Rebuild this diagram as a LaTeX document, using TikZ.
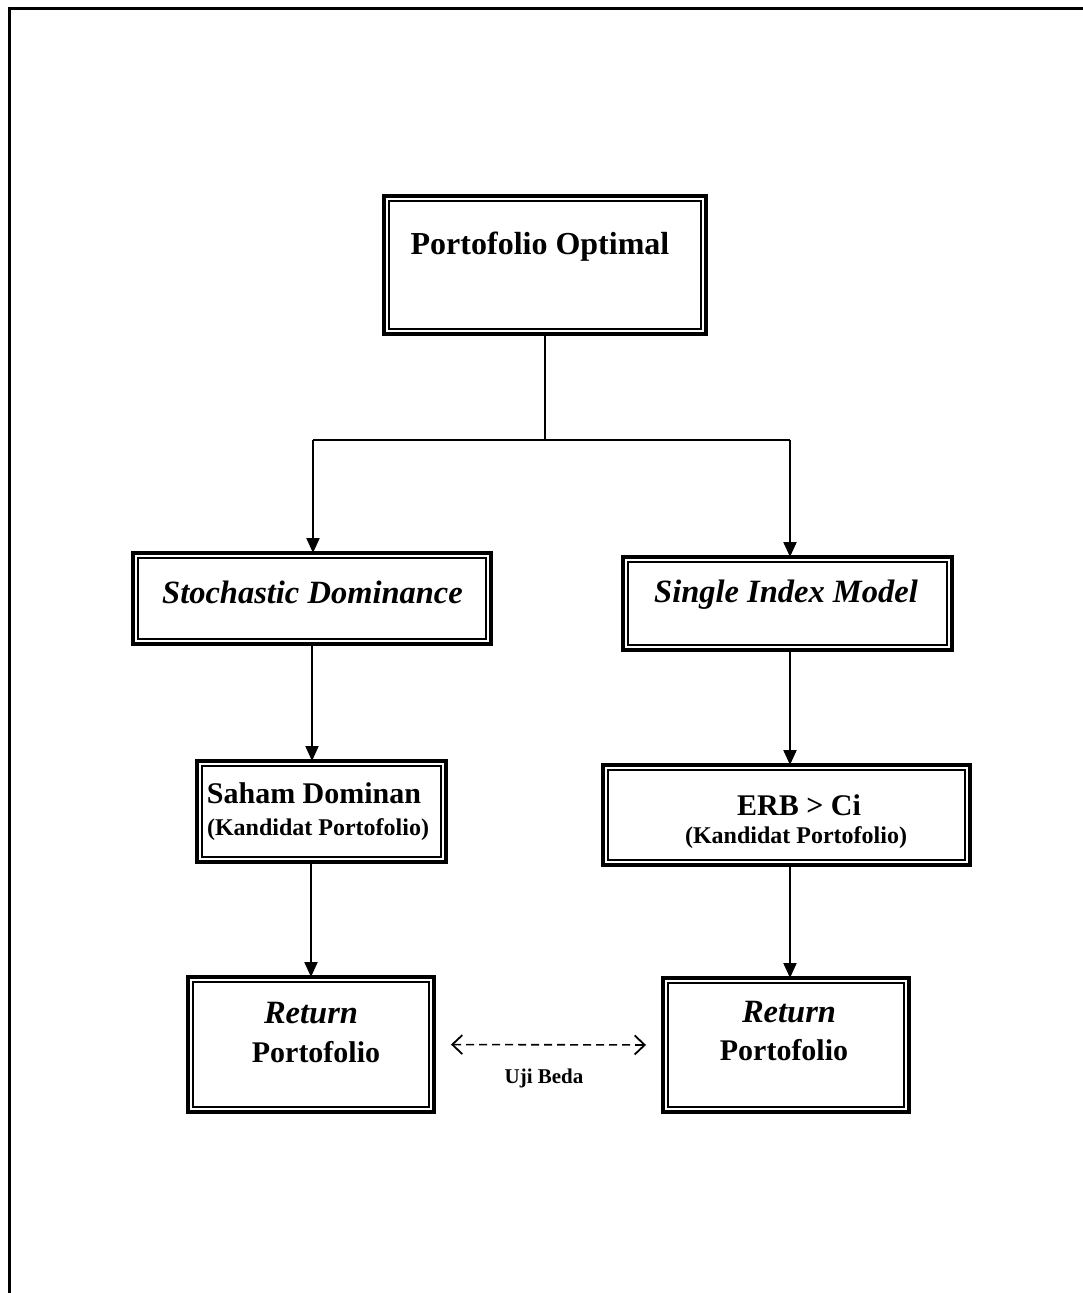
\documentclass[tikz,border=0pt]{standalone}
\usepackage{fontspec}
\setmainfont{Liberation Serif}
\usetikzlibrary{arrows.meta}
\begin{document}
\begin{tikzpicture}[x=1pt,y=-1pt,
  outerbox/.style={draw, line width=3.2pt, inner sep=0pt, outer sep=0pt},
  innerline/.style={line width=1.6pt},
  conn/.style={line width=2pt},
  arr/.style={conn, -{Triangle[length=15pt,width=13pt]}},
  dsh/.style={line width=1.6pt, dash pattern=on 8pt off 5pt,
    {Straight Barb[length=10pt,width=19pt,line width=1.8pt]}-{Straight Barb[length=10pt,width=19pt,line width=1.8pt]}},
  big/.style={inner sep=0pt, anchor=base, font=\fontsize{32}{38}\selectfont\bfseries},
  bigit/.style={inner sep=0pt, anchor=base, font=\fontsize{32.5}{38}\selectfont\bfseries\itshape},
  mid/.style={inner sep=0pt, anchor=base, font=\fontsize{30}{36}\selectfont\bfseries},
  small/.style={inner sep=0pt, anchor=base, font=\fontsize{24}{29}\selectfont\bfseries},
  tiny/.style={inner sep=0pt, anchor=base, font=\fontsize{21}{25}\selectfont\bfseries}
]
\useasboundingbox (0,0) rectangle (1083,1293);
\fill[white] (0,0) rectangle (1083,1293);
% outer frame (open on right and bottom)
\draw[line width=3pt] (1083,8) -- (9,8) -- (9,1293);

% boxes
\node[outerbox, minimum width=322pt, minimum height=138pt] (po) at (545,265) {};
\node[outerbox, minimum width=358pt, minimum height=91pt] (sd) at (312,598.5) {};
\node[outerbox, minimum width=329pt, minimum height=93pt] (sim) at (787.5,603.5) {};
\node[outerbox, minimum width=249pt, minimum height=101pt] (sah) at (321.5,811.5) {};
\node[outerbox, minimum width=367pt, minimum height=100pt] (erb) at (786.5,815) {};
\node[outerbox, minimum width=246pt, minimum height=135pt] (rl) at (311,1044.5) {};
\node[outerbox, minimum width=246pt, minimum height=134pt] (rr) at (786,1045) {};

\foreach \b in {po,sd,sim,sah,erb,rl,rr}{
  \draw[innerline] ([xshift=5pt,yshift=-5pt]\b.north west) rectangle ([xshift=-5pt,yshift=5pt]\b.south east);
}

% texts
\node[big] (tpo) at (540,254) {Portofolio Optimal};
\node[bigit] (tsd) at (312.5,603) {Stochastic Dominance};
\node[bigit] (tsim) at (786,602) {Single Index Model};
\node[mid] (tsah) at (314,803) {Saham Dominan};
\node[small] (tsah2) at (318,835) {(Kandidat Portofolio)};
\node[mid] (terb) at (799,815) {ERB > Ci};
\node[small] (terb2) at (796,843) {(Kandidat Portofolio)};
\node[bigit] (trl) at (311,1023) {Return};
\node[mid] (trl2) at (316,1062) {Portofolio};
\node[bigit] (trr) at (789,1022) {Return};
\node[mid] (trr2) at (784,1060) {Portofolio};
\node[tiny] (uji) at (544,1083) {Uji Beda};

% connectors
\coordinate (jl) at (313,440);
\coordinate (jr) at (790,440);
\coordinate (jm) at (po.south |- jl);
\draw[conn] (po.south) -- (jm);
\draw[conn] (jl) -- (jr);
\draw[arr] (jl) -- (jl |- sd.north);
\draw[arr] (jr) -- (jr |- sim.north);
\draw[arr] (sd.south) -- (sd.south |- sah.north);
\draw[arr] (jr |- sim.south) -- (jr |- erb.north);
\draw[arr] (rl.north |- sah.south) -- (rl.north);
\draw[arr] (jr |- erb.south) -- (jr |- rr.north);
\draw[dsh, shorten <=17pt, shorten >=17pt] (rl.east) -- (rr.west);
\end{tikzpicture}
\end{document}
